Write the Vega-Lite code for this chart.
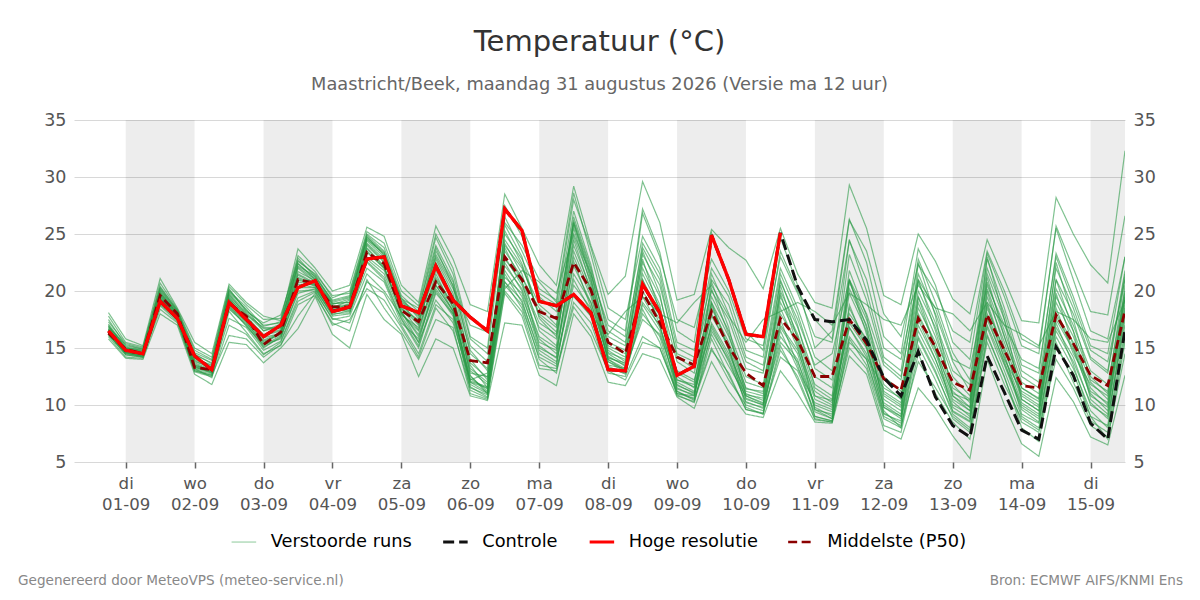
{"$schema":"https://vega.github.io/schema/vega-lite/v6.json","width":1051,"height":342,"autosize":{"type":"none"},"padding":{"left":74,"top":120,"right":75,"bottom":138},"background":"white",
"title":{"text":"Temperatuur (°C)","subtitle":"Maastricht/Beek, maandag 31 augustus 2026 (Versie ma 12 uur)","font":"DejaVu Sans","fontSize":29,"fontWeight":"normal","color":"#333333","subtitleFont":"DejaVu Sans","subtitleFontSize":17.8,"subtitleColor":"#666666","subtitlePadding":19,"anchor":"middle","offset":17},
"config":{"view":{"stroke":null},"font":"DejaVu Sans"},
"datasets":{"runs":[
{"r":1,"h":-6,"v":18.1},{"r":1,"h":0,"v":15.8},{"r":1,"h":6,"v":15.2},{"r":1,"h":12,"v":21.1},{"r":1,"h":18,"v":18.5},{"r":1,"h":24,"v":15.5},{"r":1,"h":30,"v":14.5},{"r":1,"h":36,"v":20.6},{"r":1,"h":42,"v":19},{"r":1,"h":48,"v":17.8},{"r":1,"h":54,"v":17.4},{"r":1,"h":60,"v":23.7},{"r":1,"h":66,"v":22},{"r":1,"h":72,"v":20},{"r":1,"h":78,"v":20.5},{"r":1,"h":84,"v":25.6},{"r":1,"h":90,"v":24.8},{"r":1,"h":96,"v":20.5},{"r":1,"h":102,"v":19},{"r":1,"h":108,"v":25.7},{"r":1,"h":114,"v":22.8},{"r":1,"h":120,"v":18.8},{"r":1,"h":126,"v":18.2},{"r":1,"h":132,"v":28.5},{"r":1,"h":138,"v":25.5},{"r":1,"h":144,"v":22.3},{"r":1,"h":150,"v":20.5},{"r":1,"h":156,"v":29.2},{"r":1,"h":162,"v":24},{"r":1,"h":168,"v":19.7},{"r":1,"h":174,"v":21.3},{"r":1,"h":180,"v":29.6},{"r":1,"h":186,"v":26},{"r":1,"h":192,"v":19.2},{"r":1,"h":198,"v":19.7},{"r":1,"h":204,"v":25.4},{"r":1,"h":210,"v":23.8},{"r":1,"h":216,"v":22.7},{"r":1,"h":222,"v":20.2},{"r":1,"h":228,"v":25.5},{"r":1,"h":234,"v":21.5},{"r":1,"h":240,"v":19},{"r":1,"h":246,"v":18.5},{"r":1,"h":252,"v":29.3},{"r":1,"h":258,"v":25.5},{"r":1,"h":264,"v":19.6},{"r":1,"h":270,"v":18.8},{"r":1,"h":276,"v":25},{"r":1,"h":282,"v":22.6},{"r":1,"h":288,"v":19.3},{"r":1,"h":294,"v":18},{"r":1,"h":300,"v":24.5},{"r":1,"h":306,"v":21},{"r":1,"h":312,"v":17.4},{"r":1,"h":318,"v":17.2},{"r":1,"h":324,"v":28.2},{"r":1,"h":330,"v":25},{"r":1,"h":336,"v":22.3},{"r":1,"h":342,"v":20.7},{"r":1,"h":348,"v":32.3},
{"r":2,"h":-6,"v":15.8},{"r":2,"h":0,"v":14.1},{"r":2,"h":6,"v":14},{"r":2,"h":12,"v":18},{"r":2,"h":18,"v":17},{"r":2,"h":24,"v":12.7},{"r":2,"h":30,"v":11.8},{"r":2,"h":36,"v":15.5},{"r":2,"h":42,"v":15.3},{"r":2,"h":48,"v":13.7},{"r":2,"h":54,"v":15},{"r":2,"h":60,"v":16.7},{"r":2,"h":66,"v":19.5},{"r":2,"h":72,"v":16.2},{"r":2,"h":78,"v":15},{"r":2,"h":84,"v":19.7},{"r":2,"h":90,"v":17.5},{"r":2,"h":96,"v":16.2},{"r":2,"h":102,"v":12.5},{"r":2,"h":108,"v":15.8},{"r":2,"h":114,"v":15},{"r":2,"h":120,"v":10.8},{"r":2,"h":126,"v":10.4},{"r":2,"h":132,"v":17.2},{"r":2,"h":138,"v":17},{"r":2,"h":144,"v":12.6},{"r":2,"h":150,"v":11.7},{"r":2,"h":156,"v":18},{"r":2,"h":162,"v":16},{"r":2,"h":168,"v":12},{"r":2,"h":174,"v":11.7},{"r":2,"h":180,"v":14.5},{"r":2,"h":186,"v":14},{"r":2,"h":192,"v":10.7},{"r":2,"h":198,"v":9.7},{"r":2,"h":204,"v":13.8},{"r":2,"h":210,"v":11.2},{"r":2,"h":216,"v":9.2},{"r":2,"h":222,"v":8.9},{"r":2,"h":228,"v":13},{"r":2,"h":234,"v":11},{"r":2,"h":240,"v":8.5},{"r":2,"h":246,"v":8.4},{"r":2,"h":252,"v":14.3},{"r":2,"h":258,"v":12.7},{"r":2,"h":264,"v":7.8},{"r":2,"h":270,"v":7},{"r":2,"h":276,"v":11.5},{"r":2,"h":282,"v":9.7},{"r":2,"h":288,"v":7.3},{"r":2,"h":294,"v":5.3},{"r":2,"h":300,"v":14},{"r":2,"h":306,"v":10},{"r":2,"h":312,"v":6.6},{"r":2,"h":318,"v":5.5},{"r":2,"h":324,"v":12.4},{"r":2,"h":330,"v":10.3},{"r":2,"h":336,"v":7.2},{"r":2,"h":342,"v":6.5},{"r":2,"h":348,"v":12.6},
{"r":3,"h":-6,"v":17.5},{"r":3,"h":0,"v":15.2},{"r":3,"h":6,"v":14.9},{"r":3,"h":12,"v":20.4},{"r":3,"h":18,"v":18.3},{"r":3,"h":24,"v":14.8},{"r":3,"h":30,"v":14},{"r":3,"h":36,"v":20.2},{"r":3,"h":42,"v":18.2},{"r":3,"h":48,"v":17.2},{"r":3,"h":54,"v":17.9},{"r":3,"h":60,"v":22.6},{"r":3,"h":66,"v":21.5},{"r":3,"h":72,"v":19.6},{"r":3,"h":78,"v":19.8},{"r":3,"h":84,"v":25},{"r":3,"h":90,"v":23.8},{"r":3,"h":96,"v":19.6},{"r":3,"h":102,"v":18.2},{"r":3,"h":108,"v":24.7},{"r":3,"h":114,"v":21.5},{"r":3,"h":120,"v":15.8},{"r":3,"h":126,"v":14.5},{"r":3,"h":132,"v":26.5},{"r":3,"h":138,"v":23.5},{"r":3,"h":144,"v":20.2},{"r":3,"h":150,"v":19.2},{"r":3,"h":156,"v":28.6},{"r":3,"h":162,"v":23.2},{"r":3,"h":168,"v":17.5},{"r":3,"h":174,"v":16.5},{"r":3,"h":180,"v":27.2},{"r":3,"h":186,"v":23.4},{"r":3,"h":192,"v":16.5},{"r":3,"h":198,"v":15.5},{"r":3,"h":204,"v":25.1},{"r":3,"h":210,"v":21},{"r":3,"h":216,"v":16.5},{"r":3,"h":222,"v":14.8},{"r":3,"h":228,"v":24.7},{"r":3,"h":234,"v":20.5},{"r":3,"h":240,"v":15},{"r":3,"h":246,"v":16.5},{"r":3,"h":252,"v":26.3},{"r":3,"h":258,"v":22.5},{"r":3,"h":264,"v":16},{"r":3,"h":270,"v":14.5},{"r":3,"h":276,"v":23.7},{"r":3,"h":282,"v":20.5},{"r":3,"h":288,"v":15.5},{"r":3,"h":294,"v":14},{"r":3,"h":300,"v":23.3},{"r":3,"h":306,"v":19.5},{"r":3,"h":312,"v":15.2},{"r":3,"h":318,"v":14.5},{"r":3,"h":324,"v":25.7},{"r":3,"h":330,"v":22},{"r":3,"h":336,"v":18.2},{"r":3,"h":342,"v":17.9},{"r":3,"h":348,"v":26.6},
{"r":4,"h":-6,"v":16.2},{"r":4,"h":0,"v":14.4},{"r":4,"h":6,"v":14.2},{"r":4,"h":12,"v":18.4},{"r":4,"h":18,"v":17.2},{"r":4,"h":24,"v":13},{"r":4,"h":30,"v":12.6},{"r":4,"h":36,"v":16.1},{"r":4,"h":42,"v":15.8},{"r":4,"h":48,"v":14.2},{"r":4,"h":54,"v":15.3},{"r":4,"h":60,"v":17.8},{"r":4,"h":66,"v":19.8},{"r":4,"h":72,"v":17},{"r":4,"h":78,"v":17.5},{"r":4,"h":84,"v":20.2},{"r":4,"h":90,"v":19.2},{"r":4,"h":96,"v":16.8},{"r":4,"h":102,"v":14.2},{"r":4,"h":108,"v":18.5},{"r":4,"h":114,"v":16.5},{"r":4,"h":120,"v":11.5},{"r":4,"h":126,"v":10.9},{"r":4,"h":132,"v":20},{"r":4,"h":138,"v":18.2},{"r":4,"h":144,"v":13.5},{"r":4,"h":150,"v":13.2},{"r":4,"h":156,"v":19},{"r":4,"h":162,"v":17.2},{"r":4,"h":168,"v":12.8},{"r":4,"h":174,"v":12.5},{"r":4,"h":180,"v":16},{"r":4,"h":186,"v":15},{"r":4,"h":192,"v":11},{"r":4,"h":198,"v":10.6},{"r":4,"h":204,"v":15},{"r":4,"h":210,"v":12.2},{"r":4,"h":216,"v":10},{"r":4,"h":222,"v":9.5},{"r":4,"h":228,"v":14.2},{"r":4,"h":234,"v":13},{"r":4,"h":240,"v":9.4},{"r":4,"h":246,"v":8.8},{"r":4,"h":252,"v":15},{"r":4,"h":258,"v":13.2},{"r":4,"h":264,"v":8.2},{"r":4,"h":270,"v":7.6},{"r":4,"h":276,"v":14.5},{"r":4,"h":282,"v":11},{"r":4,"h":288,"v":8.5},{"r":4,"h":294,"v":7},{"r":4,"h":300,"v":16},{"r":4,"h":306,"v":12.5},{"r":4,"h":312,"v":8},{"r":4,"h":318,"v":6.8},{"r":4,"h":324,"v":15},{"r":4,"h":330,"v":12.8},{"r":4,"h":336,"v":9},{"r":4,"h":342,"v":7},{"r":4,"h":348,"v":15.5},
{"r":5,"h":-6,"v":16.9},{"r":5,"h":0,"v":15},{"r":5,"h":6,"v":14.7},{"r":5,"h":12,"v":20},{"r":5,"h":18,"v":18.1},{"r":5,"h":24,"v":14.2},{"r":5,"h":30,"v":13.4},{"r":5,"h":36,"v":19.7},{"r":5,"h":42,"v":17.9},{"r":5,"h":48,"v":16.8},{"r":5,"h":54,"v":16.8},{"r":5,"h":60,"v":22.1},{"r":5,"h":66,"v":21},{"r":5,"h":72,"v":18.5},{"r":5,"h":78,"v":19.2},{"r":5,"h":84,"v":24.6},{"r":5,"h":90,"v":23.2},{"r":5,"h":96,"v":19},{"r":5,"h":102,"v":17.8},{"r":5,"h":108,"v":23.5},{"r":5,"h":114,"v":20.8},{"r":5,"h":120,"v":14.5},{"r":5,"h":126,"v":13.2},{"r":5,"h":132,"v":25},{"r":5,"h":138,"v":22.8},{"r":5,"h":144,"v":19.5},{"r":5,"h":150,"v":18.2},{"r":5,"h":156,"v":27},{"r":5,"h":162,"v":22.3},{"r":5,"h":168,"v":16},{"r":5,"h":174,"v":15.2},{"r":5,"h":180,"v":24.2},{"r":5,"h":186,"v":21.5},{"r":5,"h":192,"v":15},{"r":5,"h":198,"v":14.2},{"r":5,"h":204,"v":21},{"r":5,"h":210,"v":18.8},{"r":5,"h":216,"v":14.2},{"r":5,"h":222,"v":13.5},{"r":5,"h":228,"v":22},{"r":5,"h":234,"v":18.5},{"r":5,"h":240,"v":14.2},{"r":5,"h":246,"v":13},{"r":5,"h":252,"v":24.5},{"r":5,"h":258,"v":20},{"r":5,"h":264,"v":14.2},{"r":5,"h":270,"v":13},{"r":5,"h":276,"v":22.8},{"r":5,"h":282,"v":19},{"r":5,"h":288,"v":14.6},{"r":5,"h":294,"v":12.2},{"r":5,"h":300,"v":22.8},{"r":5,"h":306,"v":18.5},{"r":5,"h":312,"v":13.5},{"r":5,"h":318,"v":12.8},{"r":5,"h":324,"v":23.3},{"r":5,"h":330,"v":19.5},{"r":5,"h":336,"v":15.2},{"r":5,"h":342,"v":14.5},{"r":5,"h":348,"v":23},
{"r":6,"h":-6,"v":16.1},{"r":6,"h":0,"v":14.6},{"r":6,"h":6,"v":14.3},{"r":6,"h":12,"v":18.9},{"r":6,"h":18,"v":17.5},{"r":6,"h":24,"v":13.3},{"r":6,"h":30,"v":12.9},{"r":6,"h":36,"v":18.5},{"r":6,"h":42,"v":17},{"r":6,"h":48,"v":15},{"r":6,"h":54,"v":16},{"r":6,"h":60,"v":19.8},{"r":6,"h":66,"v":20.2},{"r":6,"h":72,"v":17.8},{"r":6,"h":78,"v":18},{"r":6,"h":84,"v":22.5},{"r":6,"h":90,"v":21},{"r":6,"h":96,"v":17.5},{"r":6,"h":102,"v":15},{"r":6,"h":108,"v":19.8},{"r":6,"h":114,"v":18},{"r":6,"h":120,"v":12},{"r":6,"h":126,"v":11.5},{"r":6,"h":132,"v":21.2},{"r":6,"h":138,"v":19.8},{"r":6,"h":144,"v":15},{"r":6,"h":150,"v":14.2},{"r":6,"h":156,"v":20.5},{"r":6,"h":162,"v":18.5},{"r":6,"h":168,"v":13.5},{"r":6,"h":174,"v":13.2},{"r":6,"h":180,"v":17.5},{"r":6,"h":186,"v":16.2},{"r":6,"h":192,"v":11.8},{"r":6,"h":198,"v":11},{"r":6,"h":204,"v":16.2},{"r":6,"h":210,"v":13.4},{"r":6,"h":216,"v":10.8},{"r":6,"h":222,"v":10.2},{"r":6,"h":228,"v":15.5},{"r":6,"h":234,"v":13.8},{"r":6,"h":240,"v":10},{"r":6,"h":246,"v":9.4},{"r":6,"h":252,"v":16},{"r":6,"h":258,"v":14},{"r":6,"h":264,"v":9.2},{"r":6,"h":270,"v":8.6},{"r":6,"h":276,"v":15.8},{"r":6,"h":282,"v":12.8},{"r":6,"h":288,"v":9.5},{"r":6,"h":294,"v":8.6},{"r":6,"h":300,"v":17},{"r":6,"h":306,"v":13.5},{"r":6,"h":312,"v":9.6},{"r":6,"h":318,"v":8.5},{"r":6,"h":324,"v":16.5},{"r":6,"h":330,"v":13.8},{"r":6,"h":336,"v":10.2},{"r":6,"h":342,"v":8.8},{"r":6,"h":348,"v":17.5},
{"r":7,"h":-6,"v":16.7},{"r":7,"h":0,"v":14.9},{"r":7,"h":6,"v":14.6},{"r":7,"h":12,"v":19.8},{"r":7,"h":18,"v":18},{"r":7,"h":24,"v":13.9},{"r":7,"h":30,"v":13.2},{"r":7,"h":36,"v":19.4},{"r":7,"h":42,"v":17.8},{"r":7,"h":48,"v":16.2},{"r":7,"h":54,"v":16.6},{"r":7,"h":60,"v":21.7},{"r":7,"h":66,"v":20.9},{"r":7,"h":72,"v":18.9},{"r":7,"h":78,"v":19},{"r":7,"h":84,"v":24.2},{"r":7,"h":90,"v":22.8},{"r":7,"h":96,"v":18.6},{"r":7,"h":102,"v":17},{"r":7,"h":108,"v":22.5},{"r":7,"h":114,"v":19.5},{"r":7,"h":120,"v":14},{"r":7,"h":126,"v":12.2},{"r":7,"h":132,"v":24},{"r":7,"h":138,"v":22},{"r":7,"h":144,"v":18.8},{"r":7,"h":150,"v":17.5},{"r":7,"h":156,"v":26},{"r":7,"h":162,"v":21.5},{"r":7,"h":168,"v":15.5},{"r":7,"h":174,"v":14.8},{"r":7,"h":180,"v":23.2},{"r":7,"h":186,"v":20.5},{"r":7,"h":192,"v":14.5},{"r":7,"h":198,"v":13.8},{"r":7,"h":204,"v":20},{"r":7,"h":210,"v":17.5},{"r":7,"h":216,"v":13.2},{"r":7,"h":222,"v":12.8},{"r":7,"h":228,"v":20.8},{"r":7,"h":234,"v":17.5},{"r":7,"h":240,"v":13.5},{"r":7,"h":246,"v":14.5},{"r":7,"h":252,"v":21},{"r":7,"h":258,"v":18},{"r":7,"h":264,"v":13.5},{"r":7,"h":270,"v":12.2},{"r":7,"h":276,"v":21.5},{"r":7,"h":282,"v":18},{"r":7,"h":288,"v":13.8},{"r":7,"h":294,"v":11.2},{"r":7,"h":300,"v":21.5},{"r":7,"h":306,"v":17.5},{"r":7,"h":312,"v":12.5},{"r":7,"h":318,"v":11.5},{"r":7,"h":324,"v":21},{"r":7,"h":330,"v":18},{"r":7,"h":336,"v":14},{"r":7,"h":342,"v":12.8},{"r":7,"h":348,"v":21.5},
{"r":8,"h":-6,"v":16.4},{"r":8,"h":0,"v":14.7},{"r":8,"h":6,"v":14.4},{"r":8,"h":12,"v":19.4},{"r":8,"h":18,"v":17.7},{"r":8,"h":24,"v":13.6},{"r":8,"h":30,"v":13},{"r":8,"h":36,"v":19},{"r":8,"h":42,"v":17.4},{"r":8,"h":48,"v":15.6},{"r":8,"h":54,"v":16.2},{"r":8,"h":60,"v":20.8},{"r":8,"h":66,"v":20.5},{"r":8,"h":72,"v":18.2},{"r":8,"h":78,"v":18.5},{"r":8,"h":84,"v":23.8},{"r":8,"h":90,"v":22.2},{"r":8,"h":96,"v":18},{"r":8,"h":102,"v":16.5},{"r":8,"h":108,"v":21},{"r":8,"h":114,"v":18.6},{"r":8,"h":120,"v":13},{"r":8,"h":126,"v":11.8},{"r":8,"h":132,"v":22.8},{"r":8,"h":138,"v":20.8},{"r":8,"h":144,"v":17.2},{"r":8,"h":150,"v":16.2},{"r":8,"h":156,"v":24},{"r":8,"h":162,"v":20.2},{"r":8,"h":168,"v":14.8},{"r":8,"h":174,"v":13.8},{"r":8,"h":180,"v":21.5},{"r":8,"h":186,"v":18.5},{"r":8,"h":192,"v":12.5},{"r":8,"h":198,"v":11.5},{"r":8,"h":204,"v":18.5},{"r":8,"h":210,"v":15.5},{"r":8,"h":216,"v":11.5},{"r":8,"h":222,"v":11},{"r":8,"h":228,"v":19},{"r":8,"h":234,"v":16},{"r":8,"h":240,"v":11.2},{"r":8,"h":246,"v":10.2},{"r":8,"h":252,"v":19.8},{"r":8,"h":258,"v":16.5},{"r":8,"h":264,"v":11},{"r":8,"h":270,"v":10},{"r":8,"h":276,"v":18.5},{"r":8,"h":282,"v":15.5},{"r":8,"h":288,"v":11.2},{"r":8,"h":294,"v":9.8},{"r":8,"h":300,"v":19.5},{"r":8,"h":306,"v":15.5},{"r":8,"h":312,"v":11},{"r":8,"h":318,"v":10},{"r":8,"h":324,"v":19},{"r":8,"h":330,"v":16},{"r":8,"h":336,"v":12},{"r":8,"h":342,"v":10.5},{"r":8,"h":348,"v":19.5},
{"r":9,"h":-6,"v":17.1},{"r":9,"h":0,"v":15.1},{"r":9,"h":6,"v":14.8},{"r":9,"h":12,"v":19.6},{"r":9,"h":18,"v":17.9},{"r":9,"h":24,"v":13.4},{"r":9,"h":30,"v":12.8},{"r":9,"h":36,"v":18.8},{"r":9,"h":42,"v":17.2},{"r":9,"h":48,"v":15.4},{"r":9,"h":54,"v":16.4},{"r":9,"h":60,"v":20.3},{"r":9,"h":66,"v":20.3},{"r":9,"h":72,"v":18.4},{"r":9,"h":78,"v":18.2},{"r":9,"h":84,"v":23},{"r":9,"h":90,"v":21.8},{"r":9,"h":96,"v":18.2},{"r":9,"h":102,"v":16},{"r":9,"h":108,"v":20.2},{"r":9,"h":114,"v":18},{"r":9,"h":120,"v":12.5},{"r":9,"h":126,"v":11.2},{"r":9,"h":132,"v":20.8},{"r":9,"h":138,"v":19.2},{"r":9,"h":144,"v":14.5},{"r":9,"h":150,"v":13.6},{"r":9,"h":156,"v":21.5},{"r":9,"h":162,"v":19},{"r":9,"h":168,"v":14.2},{"r":9,"h":174,"v":13.5},{"r":9,"h":180,"v":19},{"r":9,"h":186,"v":17},{"r":9,"h":192,"v":12},{"r":9,"h":198,"v":11.2},{"r":9,"h":204,"v":17.2},{"r":9,"h":210,"v":14.5},{"r":9,"h":216,"v":11},{"r":9,"h":222,"v":10.4},{"r":9,"h":228,"v":17},{"r":9,"h":234,"v":14.8},{"r":9,"h":240,"v":10.5},{"r":9,"h":246,"v":9.8},{"r":9,"h":252,"v":17.2},{"r":9,"h":258,"v":15},{"r":9,"h":264,"v":10},{"r":9,"h":270,"v":9},{"r":9,"h":276,"v":17},{"r":9,"h":282,"v":14},{"r":9,"h":288,"v":10},{"r":9,"h":294,"v":9.2},{"r":9,"h":300,"v":18},{"r":9,"h":306,"v":14.2},{"r":9,"h":312,"v":10.2},{"r":9,"h":318,"v":9.2},{"r":9,"h":324,"v":17.5},{"r":9,"h":330,"v":14.8},{"r":9,"h":336,"v":11},{"r":9,"h":342,"v":9.5},{"r":9,"h":348,"v":18},
{"r":10,"h":-6,"v":16.6},{"r":10,"h":0,"v":14.8},{"r":10,"h":6,"v":14.5},{"r":10,"h":12,"v":20.1},{"r":10,"h":18,"v":18.2},{"r":10,"h":24,"v":14.4},{"r":10,"h":30,"v":13.7},{"r":10,"h":36,"v":19.9},{"r":10,"h":42,"v":18.4},{"r":10,"h":48,"v":16.5},{"r":10,"h":54,"v":17.1},{"r":10,"h":60,"v":22.9},{"r":10,"h":66,"v":21.2},{"r":10,"h":72,"v":19.2},{"r":10,"h":78,"v":19.6},{"r":10,"h":84,"v":24.9},{"r":10,"h":90,"v":23.5},{"r":10,"h":96,"v":19.3},{"r":10,"h":102,"v":18.5},{"r":10,"h":108,"v":24},{"r":10,"h":114,"v":21},{"r":10,"h":120,"v":15.2},{"r":10,"h":126,"v":13.8},{"r":10,"h":132,"v":23.5},{"r":10,"h":138,"v":21.2},{"r":10,"h":144,"v":18.5},{"r":10,"h":150,"v":17},{"r":10,"h":156,"v":25.8},{"r":10,"h":162,"v":21},{"r":10,"h":168,"v":15.2},{"r":10,"h":174,"v":14.5},{"r":10,"h":180,"v":22.5},{"r":10,"h":186,"v":19.5},{"r":10,"h":192,"v":13.8},{"r":10,"h":198,"v":12.8},{"r":10,"h":204,"v":19.5},{"r":10,"h":210,"v":16.5},{"r":10,"h":216,"v":12.5},{"r":10,"h":222,"v":11.8},{"r":10,"h":228,"v":20},{"r":10,"h":234,"v":16.8},{"r":10,"h":240,"v":12.5},{"r":10,"h":246,"v":11.5},{"r":10,"h":252,"v":20.8},{"r":10,"h":258,"v":17.5},{"r":10,"h":264,"v":12.5},{"r":10,"h":270,"v":11.2},{"r":10,"h":276,"v":20},{"r":10,"h":282,"v":16.8},{"r":10,"h":288,"v":12.5},{"r":10,"h":294,"v":10.8},{"r":10,"h":300,"v":20.8},{"r":10,"h":306,"v":16.5},{"r":10,"h":312,"v":12},{"r":10,"h":318,"v":11},{"r":10,"h":324,"v":20.2},{"r":10,"h":330,"v":17},{"r":10,"h":336,"v":13},{"r":10,"h":342,"v":11.8},{"r":10,"h":348,"v":20},
{"r":11,"h":-6,"v":16.3},{"r":11,"h":0,"v":14.5},{"r":11,"h":6,"v":14.3},{"r":11,"h":12,"v":19.2},{"r":11,"h":18,"v":17.6},{"r":11,"h":24,"v":13.1},{"r":11,"h":30,"v":12.7},{"r":11,"h":36,"v":17.6},{"r":11,"h":42,"v":16.8},{"r":11,"h":48,"v":14.8},{"r":11,"h":54,"v":15.6},{"r":11,"h":60,"v":19.4},{"r":11,"h":66,"v":20},{"r":11,"h":72,"v":17.5},{"r":11,"h":78,"v":17.8},{"r":11,"h":84,"v":21.5},{"r":11,"h":90,"v":20},{"r":11,"h":96,"v":17.8},{"r":11,"h":102,"v":15.5},{"r":11,"h":108,"v":19.2},{"r":11,"h":114,"v":17.2},{"r":11,"h":120,"v":12.2},{"r":11,"h":126,"v":12.8},{"r":11,"h":132,"v":20.2},{"r":11,"h":138,"v":21.8},{"r":11,"h":144,"v":20.8},{"r":11,"h":150,"v":19},{"r":11,"h":156,"v":19.5},{"r":11,"h":162,"v":17.8},{"r":11,"h":168,"v":16.2},{"r":11,"h":174,"v":18.2},{"r":11,"h":180,"v":19.5},{"r":11,"h":186,"v":18},{"r":11,"h":192,"v":17.2},{"r":11,"h":198,"v":19},{"r":11,"h":204,"v":20.5},{"r":11,"h":210,"v":17.8},{"r":11,"h":216,"v":15.5},{"r":11,"h":222,"v":17.5},{"r":11,"h":228,"v":18.2},{"r":11,"h":234,"v":19},{"r":11,"h":240,"v":18.2},{"r":11,"h":246,"v":17},{"r":11,"h":252,"v":19.8},{"r":11,"h":258,"v":18.8},{"r":11,"h":264,"v":17.5},{"r":11,"h":270,"v":17},{"r":11,"h":276,"v":20.5},{"r":11,"h":282,"v":18.5},{"r":11,"h":288,"v":18},{"r":11,"h":294,"v":16.5},{"r":11,"h":300,"v":19},{"r":11,"h":306,"v":17},{"r":11,"h":312,"v":16.2},{"r":11,"h":318,"v":15.2},{"r":11,"h":324,"v":18.2},{"r":11,"h":330,"v":17.5},{"r":11,"h":336,"v":15.8},{"r":11,"h":342,"v":15.5},{"r":11,"h":348,"v":19.2},
{"r":12,"h":-6,"v":16.8},{"r":12,"h":0,"v":15.3},{"r":12,"h":6,"v":14.9},{"r":12,"h":12,"v":19.9},{"r":12,"h":18,"v":18},{"r":12,"h":24,"v":14.6},{"r":12,"h":30,"v":13.9},{"r":12,"h":36,"v":20},{"r":12,"h":42,"v":18.6},{"r":12,"h":48,"v":16.9},{"r":12,"h":54,"v":17.3},{"r":12,"h":60,"v":22.2},{"r":12,"h":66,"v":21.3},{"r":12,"h":72,"v":19},{"r":12,"h":78,"v":19.4},{"r":12,"h":84,"v":24.4},{"r":12,"h":90,"v":23},{"r":12,"h":96,"v":19.2},{"r":12,"h":102,"v":18},{"r":12,"h":108,"v":23},{"r":12,"h":114,"v":20.2},{"r":12,"h":120,"v":17},{"r":12,"h":126,"v":16.4},{"r":12,"h":132,"v":26},{"r":12,"h":138,"v":24},{"r":12,"h":144,"v":21},{"r":12,"h":150,"v":19.8},{"r":12,"h":156,"v":25},{"r":12,"h":162,"v":21.5},{"r":12,"h":168,"v":17},{"r":12,"h":174,"v":16},{"r":12,"h":180,"v":26.8},{"r":12,"h":186,"v":23},{"r":12,"h":192,"v":17.5},{"r":12,"h":198,"v":16.8},{"r":12,"h":204,"v":22.8},{"r":12,"h":210,"v":20},{"r":12,"h":216,"v":15.8},{"r":12,"h":222,"v":15.2},{"r":12,"h":228,"v":23},{"r":12,"h":234,"v":19.8},{"r":12,"h":240,"v":16},{"r":12,"h":246,"v":15.5},{"r":12,"h":252,"v":24.4},{"r":12,"h":258,"v":21},{"r":12,"h":264,"v":15},{"r":12,"h":270,"v":14},{"r":12,"h":276,"v":21},{"r":12,"h":282,"v":18.5},{"r":12,"h":288,"v":14},{"r":12,"h":294,"v":13.2},{"r":12,"h":300,"v":20.5},{"r":12,"h":306,"v":17},{"r":12,"h":312,"v":14},{"r":12,"h":318,"v":13.2},{"r":12,"h":324,"v":23},{"r":12,"h":330,"v":19},{"r":12,"h":336,"v":14.8},{"r":12,"h":342,"v":13.8},{"r":12,"h":348,"v":21},
{"r":13,"h":-6,"v":16},{"r":13,"h":0,"v":14.2},{"r":13,"h":6,"v":14.1},{"r":13,"h":12,"v":19},{"r":13,"h":18,"v":17.4},{"r":13,"h":24,"v":12.9},{"r":13,"h":30,"v":12.5},{"r":13,"h":36,"v":18.2},{"r":13,"h":42,"v":16.4},{"r":13,"h":48,"v":14.5},{"r":13,"h":54,"v":15.2},{"r":13,"h":60,"v":18.8},{"r":13,"h":66,"v":19.6},{"r":13,"h":72,"v":17.2},{"r":13,"h":78,"v":16.5},{"r":13,"h":84,"v":21},{"r":13,"h":90,"v":18.5},{"r":13,"h":96,"v":16.4},{"r":13,"h":102,"v":14},{"r":13,"h":108,"v":17.5},{"r":13,"h":114,"v":16.8},{"r":13,"h":120,"v":11},{"r":13,"h":126,"v":10.5},{"r":13,"h":132,"v":19.8},{"r":13,"h":138,"v":17.8},{"r":13,"h":144,"v":13.2},{"r":13,"h":150,"v":13},{"r":13,"h":156,"v":18.6},{"r":13,"h":162,"v":16.5},{"r":13,"h":168,"v":13},{"r":13,"h":174,"v":12.2},{"r":13,"h":180,"v":15.5},{"r":13,"h":186,"v":15},{"r":13,"h":192,"v":11.2},{"r":13,"h":198,"v":10.4},{"r":13,"h":204,"v":14.8},{"r":13,"h":210,"v":12.8},{"r":13,"h":216,"v":9.6},{"r":13,"h":222,"v":9.2},{"r":13,"h":228,"v":14.8},{"r":13,"h":234,"v":12.5},{"r":13,"h":240,"v":8.8},{"r":13,"h":246,"v":8.5},{"r":13,"h":252,"v":15.5},{"r":13,"h":258,"v":14},{"r":13,"h":264,"v":9},{"r":13,"h":270,"v":8.2},{"r":13,"h":276,"v":13.8},{"r":13,"h":282,"v":11.5},{"r":13,"h":288,"v":9},{"r":13,"h":294,"v":7.8},{"r":13,"h":300,"v":15.5},{"r":13,"h":306,"v":11.8},{"r":13,"h":312,"v":8.8},{"r":13,"h":318,"v":7.8},{"r":13,"h":324,"v":14},{"r":13,"h":330,"v":11.5},{"r":13,"h":336,"v":8.2},{"r":13,"h":342,"v":7.2},{"r":13,"h":348,"v":14.5},
{"r":14,"h":-6,"v":17.3},{"r":14,"h":0,"v":15.4},{"r":14,"h":6,"v":15},{"r":14,"h":12,"v":20.7},{"r":14,"h":18,"v":18.4},{"r":14,"h":24,"v":15},{"r":14,"h":30,"v":14.2},{"r":14,"h":36,"v":20.4},{"r":14,"h":42,"v":18.8},{"r":14,"h":48,"v":17.5},{"r":14,"h":54,"v":17.6},{"r":14,"h":60,"v":23.1},{"r":14,"h":66,"v":21.7},{"r":14,"h":72,"v":19.4},{"r":14,"h":78,"v":20},{"r":14,"h":84,"v":25.2},{"r":14,"h":90,"v":24.2},{"r":14,"h":96,"v":20},{"r":14,"h":102,"v":18.7},{"r":14,"h":108,"v":25},{"r":14,"h":114,"v":22},{"r":14,"h":120,"v":16},{"r":14,"h":126,"v":15},{"r":14,"h":132,"v":27.5},{"r":14,"h":138,"v":24.8},{"r":14,"h":144,"v":19.8},{"r":14,"h":150,"v":18.8},{"r":14,"h":156,"v":28},{"r":14,"h":162,"v":23.8},{"r":14,"h":168,"v":18.5},{"r":14,"h":174,"v":17.5},{"r":14,"h":180,"v":24.8},{"r":14,"h":186,"v":22},{"r":14,"h":192,"v":15.5},{"r":14,"h":198,"v":14.8},{"r":14,"h":204,"v":22},{"r":14,"h":210,"v":19.5},{"r":14,"h":216,"v":14.8},{"r":14,"h":222,"v":14.2},{"r":14,"h":228,"v":23.5},{"r":14,"h":234,"v":20},{"r":14,"h":240,"v":17.5},{"r":14,"h":246,"v":15.8},{"r":14,"h":252,"v":26.2},{"r":14,"h":258,"v":23.5},{"r":14,"h":264,"v":18},{"r":14,"h":270,"v":16},{"r":14,"h":276,"v":22.3},{"r":14,"h":282,"v":20},{"r":14,"h":288,"v":16.5},{"r":14,"h":294,"v":15.5},{"r":14,"h":300,"v":23.5},{"r":14,"h":306,"v":20},{"r":14,"h":312,"v":15.8},{"r":14,"h":318,"v":15},{"r":14,"h":324,"v":25.5},{"r":14,"h":330,"v":21},{"r":14,"h":336,"v":16.5},{"r":14,"h":342,"v":15.8},{"r":14,"h":348,"v":23},
{"r":15,"h":-6,"v":16.5},{"r":15,"h":0,"v":14.6},{"r":15,"h":6,"v":14.4},{"r":15,"h":12,"v":19.5},{"r":15,"h":18,"v":17.8},{"r":15,"h":24,"v":13.7},{"r":15,"h":30,"v":13.1},{"r":15,"h":36,"v":19.2},{"r":15,"h":42,"v":17.6},{"r":15,"h":48,"v":15.9},{"r":15,"h":54,"v":16.3},{"r":15,"h":60,"v":21.2},{"r":15,"h":66,"v":20.6},{"r":15,"h":72,"v":18.7},{"r":15,"h":78,"v":18.8},{"r":15,"h":84,"v":23.5},{"r":15,"h":90,"v":22},{"r":15,"h":96,"v":18.4},{"r":15,"h":102,"v":17.5},{"r":15,"h":108,"v":21.8},{"r":15,"h":114,"v":19},{"r":15,"h":120,"v":13.5},{"r":15,"h":126,"v":11.5},{"r":15,"h":132,"v":22.2},{"r":15,"h":138,"v":20.2},{"r":15,"h":144,"v":16},{"r":15,"h":150,"v":15},{"r":15,"h":156,"v":23},{"r":15,"h":162,"v":19.5},{"r":15,"h":168,"v":14},{"r":15,"h":174,"v":13},{"r":15,"h":180,"v":20.5},{"r":15,"h":186,"v":17.8},{"r":15,"h":192,"v":11.5},{"r":15,"h":198,"v":10.8},{"r":15,"h":204,"v":18},{"r":15,"h":210,"v":15},{"r":15,"h":216,"v":10.5},{"r":15,"h":222,"v":10},{"r":15,"h":228,"v":18.5},{"r":15,"h":234,"v":15},{"r":15,"h":240,"v":9.8},{"r":15,"h":246,"v":9},{"r":15,"h":252,"v":18.5},{"r":15,"h":258,"v":15.5},{"r":15,"h":264,"v":10.5},{"r":15,"h":270,"v":9.5},{"r":15,"h":276,"v":19},{"r":15,"h":282,"v":15},{"r":15,"h":288,"v":10.8},{"r":15,"h":294,"v":9.5},{"r":15,"h":300,"v":20},{"r":15,"h":306,"v":15},{"r":15,"h":312,"v":10.5},{"r":15,"h":318,"v":9.5},{"r":15,"h":324,"v":18},{"r":15,"h":330,"v":15.5},{"r":15,"h":336,"v":11.5},{"r":15,"h":342,"v":10},{"r":15,"h":348,"v":18.5},
{"r":16,"h":-6,"v":16.6},{"r":16,"h":0,"v":14.9},{"r":16,"h":6,"v":14.6},{"r":16,"h":12,"v":19.3},{"r":16,"h":18,"v":17.9},{"r":16,"h":24,"v":14},{"r":16,"h":30,"v":13.3},{"r":16,"h":36,"v":19.6},{"r":16,"h":42,"v":18},{"r":16,"h":48,"v":16.5},{"r":16,"h":54,"v":16.9},{"r":16,"h":60,"v":21.5},{"r":16,"h":66,"v":20.7},{"r":16,"h":72,"v":18.3},{"r":16,"h":78,"v":18.9},{"r":16,"h":84,"v":24},{"r":16,"h":90,"v":22.5},{"r":16,"h":96,"v":18.8},{"r":16,"h":102,"v":17.3},{"r":16,"h":108,"v":22},{"r":16,"h":114,"v":19.3},{"r":16,"h":120,"v":13.2},{"r":16,"h":126,"v":12},{"r":16,"h":132,"v":23},{"r":16,"h":138,"v":20.5},{"r":16,"h":144,"v":16.8},{"r":16,"h":150,"v":15.8},{"r":16,"h":156,"v":24.8},{"r":16,"h":162,"v":20.8},{"r":16,"h":168,"v":14.5},{"r":16,"h":174,"v":13.6},{"r":16,"h":180,"v":21},{"r":16,"h":186,"v":18},{"r":16,"h":192,"v":12.8},{"r":16,"h":198,"v":12},{"r":16,"h":204,"v":19},{"r":16,"h":210,"v":16},{"r":16,"h":216,"v":12},{"r":16,"h":222,"v":11.5},{"r":16,"h":228,"v":19.5},{"r":16,"h":234,"v":16.2},{"r":16,"h":240,"v":11.8},{"r":16,"h":246,"v":10.8},{"r":16,"h":252,"v":20.2},{"r":16,"h":258,"v":17},{"r":16,"h":264,"v":11.8},{"r":16,"h":270,"v":10.5},{"r":16,"h":276,"v":19.5},{"r":16,"h":282,"v":16},{"r":16,"h":288,"v":11.8},{"r":16,"h":294,"v":10.2},{"r":16,"h":300,"v":20.2},{"r":16,"h":306,"v":16},{"r":16,"h":312,"v":11.5},{"r":16,"h":318,"v":10.5},{"r":16,"h":324,"v":19.5},{"r":16,"h":330,"v":16.5},{"r":16,"h":336,"v":12.5},{"r":16,"h":342,"v":11},{"r":16,"h":348,"v":19.8},
{"r":17,"h":-6,"v":17.8},{"r":17,"h":0,"v":15.5},{"r":17,"h":6,"v":15.1},{"r":17,"h":12,"v":20.3},{"r":17,"h":18,"v":18.3},{"r":17,"h":24,"v":14.5},{"r":17,"h":30,"v":13.6},{"r":17,"h":36,"v":19.3},{"r":17,"h":42,"v":17.5},{"r":17,"h":48,"v":16},{"r":17,"h":54,"v":17},{"r":17,"h":60,"v":22.4},{"r":17,"h":66,"v":21},{"r":17,"h":72,"v":18.8},{"r":17,"h":78,"v":19.3},{"r":17,"h":84,"v":24.7},{"r":17,"h":90,"v":23.4},{"r":17,"h":96,"v":19.4},{"r":17,"h":102,"v":17.6},{"r":17,"h":108,"v":23.2},{"r":17,"h":114,"v":20.5},{"r":17,"h":120,"v":14.8},{"r":17,"h":126,"v":13},{"r":17,"h":132,"v":24.5},{"r":17,"h":138,"v":22.2},{"r":17,"h":144,"v":18},{"r":17,"h":150,"v":16.8},{"r":17,"h":156,"v":26.5},{"r":17,"h":162,"v":22},{"r":17,"h":168,"v":16.5},{"r":17,"h":174,"v":15.5},{"r":17,"h":180,"v":23.8},{"r":17,"h":186,"v":21},{"r":17,"h":192,"v":14.2},{"r":17,"h":198,"v":13.2},{"r":17,"h":204,"v":21.5},{"r":17,"h":210,"v":18},{"r":17,"h":216,"v":13.8},{"r":17,"h":222,"v":13},{"r":17,"h":228,"v":21.5},{"r":17,"h":234,"v":18},{"r":17,"h":240,"v":13.2},{"r":17,"h":246,"v":12.2},{"r":17,"h":252,"v":23.2},{"r":17,"h":258,"v":19.2},{"r":17,"h":264,"v":13.8},{"r":17,"h":270,"v":12.5},{"r":17,"h":276,"v":20.8},{"r":17,"h":282,"v":17.2},{"r":17,"h":288,"v":13},{"r":17,"h":294,"v":11.8},{"r":17,"h":300,"v":22},{"r":17,"h":306,"v":18},{"r":17,"h":312,"v":13},{"r":17,"h":318,"v":12},{"r":17,"h":324,"v":22},{"r":17,"h":330,"v":18.5},{"r":17,"h":336,"v":14.2},{"r":17,"h":342,"v":13},{"r":17,"h":348,"v":21.8},
{"r":18,"h":-6,"v":16.2},{"r":18,"h":0,"v":14.4},{"r":18,"h":6,"v":14.2},{"r":18,"h":12,"v":18.7},{"r":18,"h":18,"v":17.3},{"r":18,"h":24,"v":13.2},{"r":18,"h":30,"v":12.4},{"r":18,"h":36,"v":17},{"r":18,"h":42,"v":16.2},{"r":18,"h":48,"v":14.4},{"r":18,"h":54,"v":15.5},{"r":18,"h":60,"v":19.1},{"r":18,"h":66,"v":19.9},{"r":18,"h":72,"v":17.6},{"r":18,"h":78,"v":17.2},{"r":18,"h":84,"v":20.8},{"r":18,"h":90,"v":19.8},{"r":18,"h":96,"v":17},{"r":18,"h":102,"v":14.5},{"r":18,"h":108,"v":18.8},{"r":18,"h":114,"v":17.5},{"r":18,"h":120,"v":11.8},{"r":18,"h":126,"v":11},{"r":18,"h":132,"v":20.5},{"r":18,"h":138,"v":18.8},{"r":18,"h":144,"v":14},{"r":18,"h":150,"v":12.8},{"r":18,"h":156,"v":19.8},{"r":18,"h":162,"v":17.8},{"r":18,"h":168,"v":13.2},{"r":18,"h":174,"v":12.8},{"r":18,"h":180,"v":18},{"r":18,"h":186,"v":16},{"r":18,"h":192,"v":10.9},{"r":18,"h":198,"v":10.2},{"r":18,"h":204,"v":16.5},{"r":18,"h":210,"v":14},{"r":18,"h":216,"v":10.2},{"r":18,"h":222,"v":9.8},{"r":18,"h":228,"v":16},{"r":18,"h":234,"v":14},{"r":18,"h":240,"v":9},{"r":18,"h":246,"v":8.6},{"r":18,"h":252,"v":16.8},{"r":18,"h":258,"v":14.5},{"r":18,"h":264,"v":9.5},{"r":18,"h":270,"v":8},{"r":18,"h":276,"v":16},{"r":18,"h":282,"v":13},{"r":18,"h":288,"v":9.2},{"r":18,"h":294,"v":8},{"r":18,"h":300,"v":16.8},{"r":18,"h":306,"v":13},{"r":18,"h":312,"v":9},{"r":18,"h":318,"v":8},{"r":18,"h":324,"v":16},{"r":18,"h":330,"v":13.2},{"r":18,"h":336,"v":9.5},{"r":18,"h":342,"v":8},{"r":18,"h":348,"v":16.5},
{"r":19,"h":-6,"v":16.9},{"r":19,"h":0,"v":15},{"r":19,"h":6,"v":14.7},{"r":19,"h":12,"v":19.7},{"r":19,"h":18,"v":18},{"r":19,"h":24,"v":13.8},{"r":19,"h":30,"v":13.3},{"r":19,"h":36,"v":18.6},{"r":19,"h":42,"v":17.3},{"r":19,"h":48,"v":15.2},{"r":19,"h":54,"v":16.1},{"r":19,"h":60,"v":21},{"r":19,"h":66,"v":20.4},{"r":19,"h":72,"v":18.1},{"r":19,"h":78,"v":18.4},{"r":19,"h":84,"v":22.8},{"r":19,"h":90,"v":21.5},{"r":19,"h":96,"v":17.9},{"r":19,"h":102,"v":16.8},{"r":19,"h":108,"v":21.2},{"r":19,"h":114,"v":18.8},{"r":19,"h":120,"v":12.8},{"r":19,"h":126,"v":12.5},{"r":19,"h":132,"v":21.8},{"r":19,"h":138,"v":19.5},{"r":19,"h":144,"v":15.5},{"r":19,"h":150,"v":14.8},{"r":19,"h":156,"v":22.2},{"r":19,"h":162,"v":19},{"r":19,"h":168,"v":14},{"r":19,"h":174,"v":13.2},{"r":19,"h":180,"v":20},{"r":19,"h":186,"v":17.5},{"r":19,"h":192,"v":13},{"r":19,"h":198,"v":12.2},{"r":19,"h":204,"v":17.8},{"r":19,"h":210,"v":15.2},{"r":19,"h":216,"v":11.2},{"r":19,"h":222,"v":10.8},{"r":19,"h":228,"v":18},{"r":19,"h":234,"v":15.5},{"r":19,"h":240,"v":10.8},{"r":19,"h":246,"v":10},{"r":19,"h":252,"v":18},{"r":19,"h":258,"v":15.8},{"r":19,"h":264,"v":10.8},{"r":19,"h":270,"v":9.8},{"r":19,"h":276,"v":17.8},{"r":19,"h":282,"v":14.5},{"r":19,"h":288,"v":10.5},{"r":19,"h":294,"v":9.5},{"r":19,"h":300,"v":18.5},{"r":19,"h":306,"v":14.8},{"r":19,"h":312,"v":10.8},{"r":19,"h":318,"v":9.8},{"r":19,"h":324,"v":17.8},{"r":19,"h":330,"v":15},{"r":19,"h":336,"v":10.8},{"r":19,"h":342,"v":9.8},{"r":19,"h":348,"v":18.8},
{"r":20,"h":-6,"v":16.4},{"r":20,"h":0,"v":14.7},{"r":20,"h":6,"v":14.4},{"r":20,"h":12,"v":19},{"r":20,"h":18,"v":17.7},{"r":20,"h":24,"v":13.5},{"r":20,"h":30,"v":13},{"r":20,"h":36,"v":18.4},{"r":20,"h":42,"v":17.1},{"r":20,"h":48,"v":15.1},{"r":20,"h":54,"v":15.9},{"r":20,"h":60,"v":20},{"r":20,"h":66,"v":20.1},{"r":20,"h":72,"v":18},{"r":20,"h":78,"v":18.1},{"r":20,"h":84,"v":22},{"r":20,"h":90,"v":20.8},{"r":20,"h":96,"v":17.2},{"r":20,"h":102,"v":15.8},{"r":20,"h":108,"v":20.5},{"r":20,"h":114,"v":18.2},{"r":20,"h":120,"v":12.3},{"r":20,"h":126,"v":11.4},{"r":20,"h":132,"v":21.5},{"r":20,"h":138,"v":19},{"r":20,"h":144,"v":14.8},{"r":20,"h":150,"v":13.8},{"r":20,"h":156,"v":21},{"r":20,"h":162,"v":18.2},{"r":20,"h":168,"v":13.8},{"r":20,"h":174,"v":12.9},{"r":20,"h":180,"v":18.8},{"r":20,"h":186,"v":16.5},{"r":20,"h":192,"v":11.4},{"r":20,"h":198,"v":10.9},{"r":20,"h":204,"v":17},{"r":20,"h":210,"v":14.2},{"r":20,"h":216,"v":10.6},{"r":20,"h":222,"v":10},{"r":20,"h":228,"v":16.8},{"r":20,"h":234,"v":14.5},{"r":20,"h":240,"v":9.6},{"r":20,"h":246,"v":9.2},{"r":20,"h":252,"v":17.5},{"r":20,"h":258,"v":15.2},{"r":20,"h":264,"v":9.8},{"r":20,"h":270,"v":8.8},{"r":20,"h":276,"v":16.5},{"r":20,"h":282,"v":13.5},{"r":20,"h":288,"v":9.8},{"r":20,"h":294,"v":8.8},{"r":20,"h":300,"v":17.5},{"r":20,"h":306,"v":13.8},{"r":20,"h":312,"v":9.8},{"r":20,"h":318,"v":8.8},{"r":20,"h":324,"v":16.8},{"r":20,"h":330,"v":14.2},{"r":20,"h":336,"v":10},{"r":20,"h":342,"v":9},{"r":20,"h":348,"v":17},
{"r":21,"h":-6,"v":16.6},{"r":21,"h":0,"v":14.6},{"r":21,"h":6,"v":14.5},{"r":21,"h":12,"v":19.2},{"r":21,"h":18,"v":17.5},{"r":21,"h":24,"v":13.5},{"r":21,"h":30,"v":13},{"r":21,"h":36,"v":19.5},{"r":21,"h":42,"v":17.7},{"r":21,"h":48,"v":16.1},{"r":21,"h":54,"v":16.5},{"r":21,"h":60,"v":22},{"r":21,"h":66,"v":20.8},{"r":21,"h":72,"v":18.6},{"r":21,"h":78,"v":18.7},{"r":21,"h":84,"v":24.1},{"r":21,"h":90,"v":22.6},{"r":21,"h":96,"v":18.5},{"r":21,"h":102,"v":16.6},{"r":21,"h":108,"v":21.5},{"r":21,"h":114,"v":18.5},{"r":21,"h":120,"v":12},{"r":21,"h":126,"v":11.1},{"r":21,"h":132,"v":24.2},{"r":21,"h":138,"v":21.5},{"r":21,"h":144,"v":16.5},{"r":21,"h":150,"v":15.2},{"r":21,"h":156,"v":26},{"r":21,"h":162,"v":21.2},{"r":21,"h":168,"v":14.3},{"r":21,"h":174,"v":13.4},{"r":21,"h":180,"v":22},{"r":21,"h":186,"v":18.8},{"r":21,"h":192,"v":11.2},{"r":21,"h":198,"v":10.5},{"r":21,"h":204,"v":20.8},{"r":21,"h":210,"v":16.8},{"r":21,"h":216,"v":10.8},{"r":21,"h":222,"v":10.1},{"r":21,"h":228,"v":20.5},{"r":21,"h":234,"v":15.8},{"r":21,"h":240,"v":9.6},{"r":21,"h":246,"v":8.8},{"r":21,"h":252,"v":21},{"r":21,"h":258,"v":16.8},{"r":21,"h":264,"v":9.8},{"r":21,"h":270,"v":9},{"r":21,"h":276,"v":22.5},{"r":21,"h":282,"v":17.8},{"r":21,"h":288,"v":10.8},{"r":21,"h":294,"v":9.8},{"r":21,"h":300,"v":23},{"r":21,"h":306,"v":17.5},{"r":21,"h":312,"v":10.5},{"r":21,"h":318,"v":9.5},{"r":21,"h":324,"v":21},{"r":21,"h":330,"v":16.5},{"r":21,"h":336,"v":10.5},{"r":21,"h":342,"v":9.2},{"r":21,"h":348,"v":20.5},
{"r":22,"h":-6,"v":16.7},{"r":22,"h":0,"v":14.9},{"r":22,"h":6,"v":14.4},{"r":22,"h":12,"v":19.8},{"r":22,"h":18,"v":18.1},{"r":22,"h":24,"v":13.2},{"r":22,"h":30,"v":12.8},{"r":22,"h":36,"v":19.8},{"r":22,"h":42,"v":18.1},{"r":22,"h":48,"v":16.7},{"r":22,"h":54,"v":16.7},{"r":22,"h":60,"v":22.4},{"r":22,"h":66,"v":21.1},{"r":22,"h":72,"v":18.9},{"r":22,"h":78,"v":19},{"r":22,"h":84,"v":24.8},{"r":22,"h":90,"v":23.1},{"r":22,"h":96,"v":18.9},{"r":22,"h":102,"v":17.1},{"r":22,"h":108,"v":22.8},{"r":22,"h":114,"v":19.8},{"r":22,"h":120,"v":12.6},{"r":22,"h":126,"v":11},{"r":22,"h":132,"v":25.8},{"r":22,"h":138,"v":23},{"r":22,"h":144,"v":17.6},{"r":22,"h":150,"v":16},{"r":22,"h":156,"v":25.5},{"r":22,"h":162,"v":20.5},{"r":22,"h":168,"v":13.8},{"r":22,"h":174,"v":13.1},{"r":22,"h":180,"v":21},{"r":22,"h":186,"v":17},{"r":22,"h":192,"v":11},{"r":22,"h":198,"v":10.8},{"r":22,"h":204,"v":19},{"r":22,"h":210,"v":15},{"r":22,"h":216,"v":9.8},{"r":22,"h":222,"v":9.2},{"r":22,"h":228,"v":17.5},{"r":22,"h":234,"v":13.5},{"r":22,"h":240,"v":9},{"r":22,"h":246,"v":8.6},{"r":22,"h":252,"v":18.8},{"r":22,"h":258,"v":15},{"r":22,"h":264,"v":9.3},{"r":22,"h":270,"v":8.4},{"r":22,"h":276,"v":19.5},{"r":22,"h":282,"v":15},{"r":22,"h":288,"v":9.4},{"r":22,"h":294,"v":8.5},{"r":22,"h":300,"v":19},{"r":22,"h":306,"v":14.5},{"r":22,"h":312,"v":9.2},{"r":22,"h":318,"v":8.4},{"r":22,"h":324,"v":17.2},{"r":22,"h":330,"v":13.5},{"r":22,"h":336,"v":9},{"r":22,"h":342,"v":8.2},{"r":22,"h":348,"v":18.2},
{"r":23,"h":-6,"v":16.3},{"r":23,"h":0,"v":14.5},{"r":23,"h":6,"v":14.3},{"r":23,"h":12,"v":19.4},{"r":23,"h":18,"v":17.8},{"r":23,"h":24,"v":13.4},{"r":23,"h":30,"v":13},{"r":23,"h":36,"v":19.1},{"r":23,"h":42,"v":17.7},{"r":23,"h":48,"v":15.7},{"r":23,"h":54,"v":16.3},{"r":23,"h":60,"v":21.4},{"r":23,"h":66,"v":20.6},{"r":23,"h":72,"v":18.3},{"r":23,"h":78,"v":18.6},{"r":23,"h":84,"v":23.7},{"r":23,"h":90,"v":22.1},{"r":23,"h":96,"v":18.1},{"r":23,"h":102,"v":16.2},{"r":23,"h":108,"v":20.5},{"r":23,"h":114,"v":18.3},{"r":23,"h":120,"v":11.6},{"r":23,"h":126,"v":10.7},{"r":23,"h":132,"v":22.5},{"r":23,"h":138,"v":20},{"r":23,"h":144,"v":15.8},{"r":23,"h":150,"v":14.5},{"r":23,"h":156,"v":23.5},{"r":23,"h":162,"v":19.8},{"r":23,"h":168,"v":14.1},{"r":23,"h":174,"v":13.7},{"r":23,"h":180,"v":19.5},{"r":23,"h":186,"v":16.8},{"r":23,"h":192,"v":12.2},{"r":23,"h":198,"v":11.6},{"r":23,"h":204,"v":16.8},{"r":23,"h":210,"v":13.8},{"r":23,"h":216,"v":10.3},{"r":23,"h":222,"v":9.7},{"r":23,"h":228,"v":16.5},{"r":23,"h":234,"v":13.2},{"r":23,"h":240,"v":10.2},{"r":23,"h":246,"v":9.6},{"r":23,"h":252,"v":21},{"r":23,"h":258,"v":16.2},{"r":23,"h":264,"v":10.2},{"r":23,"h":270,"v":9.2},{"r":23,"h":276,"v":17.5},{"r":23,"h":282,"v":14},{"r":23,"h":288,"v":10.3},{"r":23,"h":294,"v":9},{"r":23,"h":300,"v":17.8},{"r":23,"h":306,"v":13.6},{"r":23,"h":312,"v":10},{"r":23,"h":318,"v":9},{"r":23,"h":324,"v":19.8},{"r":23,"h":330,"v":15.2},{"r":23,"h":336,"v":11.2},{"r":23,"h":342,"v":10.2},{"r":23,"h":348,"v":19.5},
{"r":24,"h":-6,"v":16.5},{"r":24,"h":0,"v":14.8},{"r":24,"h":6,"v":14.6},{"r":24,"h":12,"v":19.6},{"r":24,"h":18,"v":17.9},{"r":24,"h":24,"v":13.3},{"r":24,"h":30,"v":12.9},{"r":24,"h":36,"v":19.3},{"r":24,"h":42,"v":17.4},{"r":24,"h":48,"v":15.5},{"r":24,"h":54,"v":16.2},{"r":24,"h":60,"v":21.1},{"r":24,"h":66,"v":20.5},{"r":24,"h":72,"v":18.5},{"r":24,"h":78,"v":18.5},{"r":24,"h":84,"v":23.4},{"r":24,"h":90,"v":22},{"r":24,"h":96,"v":18.2},{"r":24,"h":102,"v":15.5},{"r":24,"h":108,"v":21},{"r":24,"h":114,"v":18.2},{"r":24,"h":120,"v":12.1},{"r":24,"h":126,"v":11.6},{"r":24,"h":132,"v":23.8},{"r":24,"h":138,"v":20.8},{"r":24,"h":144,"v":15.2},{"r":24,"h":150,"v":14.1},{"r":24,"h":156,"v":24.5},{"r":24,"h":162,"v":20},{"r":24,"h":168,"v":14.6},{"r":24,"h":174,"v":14},{"r":24,"h":180,"v":22.8},{"r":24,"h":186,"v":18.2},{"r":24,"h":192,"v":11.7},{"r":24,"h":198,"v":11.1},{"r":24,"h":204,"v":18.8},{"r":24,"h":210,"v":14.8},{"r":24,"h":216,"v":10.9},{"r":24,"h":222,"v":10.6},{"r":24,"h":228,"v":19.8},{"r":24,"h":234,"v":15.2},{"r":24,"h":240,"v":10.8},{"r":24,"h":246,"v":10.4},{"r":24,"h":252,"v":16.8},{"r":24,"h":258,"v":14.2},{"r":24,"h":264,"v":11.5},{"r":24,"h":270,"v":10.6},{"r":24,"h":276,"v":18},{"r":24,"h":282,"v":14.8},{"r":24,"h":288,"v":11},{"r":24,"h":294,"v":10.4},{"r":24,"h":300,"v":18.8},{"r":24,"h":306,"v":14},{"r":24,"h":312,"v":11.2},{"r":24,"h":318,"v":10.3},{"r":24,"h":324,"v":18.5},{"r":24,"h":330,"v":14.5},{"r":24,"h":336,"v":11.8},{"r":24,"h":342,"v":10.8},{"r":24,"h":348,"v":19.2},
{"r":25,"h":-6,"v":16.4},{"r":25,"h":0,"v":14.6},{"r":25,"h":6,"v":14.2},{"r":25,"h":12,"v":18.8},{"r":25,"h":18,"v":17.5},{"r":25,"h":24,"v":13},{"r":25,"h":30,"v":12.6},{"r":25,"h":36,"v":18.7},{"r":25,"h":42,"v":16.9},{"r":25,"h":48,"v":15.3},{"r":25,"h":54,"v":15.8},{"r":25,"h":60,"v":20.6},{"r":25,"h":66,"v":20.3},{"r":25,"h":72,"v":17.9},{"r":25,"h":78,"v":18.3},{"r":25,"h":84,"v":22.6},{"r":25,"h":90,"v":21.2},{"r":25,"h":96,"v":17.6},{"r":25,"h":102,"v":15.2},{"r":25,"h":108,"v":20},{"r":25,"h":114,"v":17.8},{"r":25,"h":120,"v":11.3},{"r":25,"h":126,"v":10.6},{"r":25,"h":132,"v":20.8},{"r":25,"h":138,"v":18.5},{"r":25,"h":144,"v":14.2},{"r":25,"h":150,"v":13.4},{"r":25,"h":156,"v":22.6},{"r":25,"h":162,"v":18.6},{"r":25,"h":168,"v":13.4},{"r":25,"h":174,"v":12.7},{"r":25,"h":180,"v":18.4},{"r":25,"h":186,"v":15.5},{"r":25,"h":192,"v":10.8},{"r":25,"h":198,"v":10.3},{"r":25,"h":204,"v":15.8},{"r":25,"h":210,"v":12.6},{"r":25,"h":216,"v":9.6},{"r":25,"h":222,"v":9.3},{"r":25,"h":228,"v":15.2},{"r":25,"h":234,"v":12.2},{"r":25,"h":240,"v":8.7},{"r":25,"h":246,"v":8.5},{"r":25,"h":252,"v":15.8},{"r":25,"h":258,"v":13.5},{"r":25,"h":264,"v":8.8},{"r":25,"h":270,"v":8},{"r":25,"h":276,"v":15.2},{"r":25,"h":282,"v":12.2},{"r":25,"h":288,"v":8.8},{"r":25,"h":294,"v":7.6},{"r":25,"h":300,"v":16.2},{"r":25,"h":306,"v":12.4},{"r":25,"h":312,"v":8.5},{"r":25,"h":318,"v":7.6},{"r":25,"h":324,"v":15.5},{"r":25,"h":330,"v":12},{"r":25,"h":336,"v":8.6},{"r":25,"h":342,"v":7.6},{"r":25,"h":348,"v":16},
{"r":26,"h":-6,"v":17},{"r":26,"h":0,"v":15},{"r":26,"h":6,"v":14.8},{"r":26,"h":12,"v":20.2},{"r":26,"h":18,"v":18.2},{"r":26,"h":24,"v":14.1},{"r":26,"h":30,"v":13.5},{"r":26,"h":36,"v":20.1},{"r":26,"h":42,"v":18.3},{"r":26,"h":48,"v":17},{"r":26,"h":54,"v":17.2},{"r":26,"h":60,"v":22.7},{"r":26,"h":66,"v":21.4},{"r":26,"h":72,"v":19.1},{"r":26,"h":78,"v":19.5},{"r":26,"h":84,"v":24.5},{"r":26,"h":90,"v":23.3},{"r":26,"h":96,"v":19.1},{"r":26,"h":102,"v":17.9},{"r":26,"h":108,"v":23.8},{"r":26,"h":114,"v":20.4},{"r":26,"h":120,"v":13.7},{"r":26,"h":126,"v":12.4},{"r":26,"h":132,"v":25.3},{"r":26,"h":138,"v":22.4},{"r":26,"h":144,"v":17.8},{"r":26,"h":150,"v":16.4},{"r":26,"h":156,"v":26.2},{"r":26,"h":162,"v":21.8},{"r":26,"h":168,"v":15},{"r":26,"h":174,"v":14.2},{"r":26,"h":180,"v":23.5},{"r":26,"h":186,"v":19.8},{"r":26,"h":192,"v":12.2},{"r":26,"h":198,"v":11.8},{"r":26,"h":204,"v":20.2},{"r":26,"h":210,"v":16.2},{"r":26,"h":216,"v":11.4},{"r":26,"h":222,"v":11.2},{"r":26,"h":228,"v":21},{"r":26,"h":234,"v":17},{"r":26,"h":240,"v":11.5},{"r":26,"h":246,"v":10.5},{"r":26,"h":252,"v":21.8},{"r":26,"h":258,"v":17.8},{"r":26,"h":264,"v":11.2},{"r":26,"h":270,"v":10.2},{"r":26,"h":276,"v":21},{"r":26,"h":282,"v":16.5},{"r":26,"h":288,"v":11.5},{"r":26,"h":294,"v":10.5},{"r":26,"h":300,"v":21.2},{"r":26,"h":306,"v":16},{"r":26,"h":312,"v":11.5},{"r":26,"h":318,"v":10.6},{"r":26,"h":324,"v":22.5},{"r":26,"h":330,"v":17.5},{"r":26,"h":336,"v":12.2},{"r":26,"h":342,"v":11.2},{"r":26,"h":348,"v":21.2}
],
"hires":[{"h":-6,"v":16.5},{"h":0,"v":14.8},{"h":6,"v":14.5},{"h":12,"v":19.1},{"h":18,"v":17.6},{"h":24,"v":14.3},{"h":30,"v":13.1},{"h":36,"v":19},{"h":42,"v":17.5},{"h":48,"v":16},{"h":54,"v":17},{"h":60,"v":20.3},{"h":66,"v":20.9},{"h":72,"v":18.2},{"h":78,"v":18.6},{"h":84,"v":22.8},{"h":90,"v":23},{"h":96,"v":18.7},{"h":102,"v":18.1},{"h":108,"v":22.2},{"h":114,"v":19.2},{"h":120,"v":17.7},{"h":126,"v":16.5},{"h":132,"v":27.2},{"h":138,"v":25.3},{"h":144,"v":19.1},{"h":150,"v":18.7},{"h":156,"v":19.7},{"h":162,"v":18.1},{"h":168,"v":13.1},{"h":174,"v":13},{"h":180,"v":20.6},{"h":186,"v":18.1},{"h":192,"v":12.6},{"h":198,"v":13.4},{"h":204,"v":24.9},{"h":210,"v":21},{"h":216,"v":16.2},{"h":222,"v":16},{"h":228,"v":25.1}],
"control":[{"h":-6,"v":16.5},{"h":0,"v":14.8},{"h":6,"v":14.5},{"h":12,"v":19.1},{"h":18,"v":17.6},{"h":24,"v":14.3},{"h":30,"v":13.1},{"h":36,"v":19},{"h":42,"v":17.5},{"h":48,"v":16},{"h":54,"v":17},{"h":60,"v":20.3},{"h":66,"v":20.9},{"h":72,"v":18.2},{"h":78,"v":18.6},{"h":84,"v":22.8},{"h":90,"v":23},{"h":96,"v":18.7},{"h":102,"v":18.1},{"h":108,"v":22.2},{"h":114,"v":19.2},{"h":120,"v":17.7},{"h":126,"v":16.5},{"h":132,"v":27.2},{"h":138,"v":25.3},{"h":144,"v":19.1},{"h":150,"v":18.7},{"h":156,"v":19.7},{"h":162,"v":18.1},{"h":168,"v":13.1},{"h":174,"v":13},{"h":180,"v":20.6},{"h":186,"v":18.1},{"h":192,"v":12.6},{"h":198,"v":13.4},{"h":204,"v":24.9},{"h":210,"v":21},{"h":216,"v":16.2},{"h":222,"v":16},{"h":228,"v":25.1},{"h":234,"v":20.4},{"h":240,"v":17.5},{"h":246,"v":17.3},{"h":252,"v":17.5},{"h":258,"v":15.7},{"h":264,"v":12.4},{"h":270,"v":10.8},{"h":276,"v":14.7},{"h":282,"v":10.7},{"h":288,"v":8.2},{"h":294,"v":7.2},{"h":300,"v":14.3},{"h":306,"v":11.1},{"h":312,"v":7.8},{"h":318,"v":7},{"h":324,"v":15.1},{"h":330,"v":12.6},{"h":336,"v":8.4},{"h":342,"v":7},{"h":348,"v":16.6}],
"p50":[{"h":-6,"v":16.3},{"h":0,"v":14.9},{"h":6,"v":14.5},{"h":12,"v":19.6},{"h":18,"v":18},{"h":24,"v":13.3},{"h":30,"v":13.1},{"h":36,"v":18.9},{"h":42,"v":17.8},{"h":48,"v":15.3},{"h":54,"v":16.4},{"h":60,"v":21},{"h":66,"v":20.7},{"h":72,"v":18.6},{"h":78,"v":18.6},{"h":84,"v":23.4},{"h":90,"v":22.4},{"h":96,"v":18.3},{"h":102,"v":17.3},{"h":108,"v":20.8},{"h":114,"v":18.9},{"h":120,"v":13.9},{"h":126,"v":13.7},{"h":132,"v":23},{"h":138,"v":21},{"h":144,"v":18.2},{"h":150,"v":17.6},{"h":156,"v":22.5},{"h":162,"v":20.1},{"h":168,"v":15.5},{"h":174,"v":14.5},{"h":180,"v":19.9},{"h":186,"v":17.2},{"h":192,"v":14.2},{"h":198,"v":13.5},{"h":204,"v":18.2},{"h":210,"v":15.1},{"h":216,"v":12.8},{"h":222,"v":11.7},{"h":228,"v":17.6},{"h":234,"v":15.7},{"h":240,"v":12.5},{"h":246,"v":12.5},{"h":252,"v":17.5},{"h":258,"v":15.4},{"h":264,"v":12.3},{"h":270,"v":11.3},{"h":276,"v":17.6},{"h":282,"v":15.1},{"h":288,"v":12},{"h":294,"v":11.3},{"h":300,"v":17.9},{"h":306,"v":14.8},{"h":312,"v":11.7},{"h":318,"v":11.5},{"h":324,"v":17.9},{"h":330,"v":15.4},{"h":336,"v":12.6},{"h":342,"v":11.7},{"h":348,"v":18.3}]
},
"encoding":{"x":{"field":"h","type":"quantitative","title":null,"scale":{"domain":[-18,348],"nice":false,"zero":false},"axis":{"values":[0,24,48,72,96,120,144,168,192,216,240,264,288,312,336],"grid":false,"domain":false,"tickColor":"#666666","tickWidth":1.5,"tickSize":6,"labelColor":"#555555","labelFont":"DejaVu Sans","labelFontSize":16.6,"labelPadding":7,"labelLineHeight":21,"labelOverlap":false,"labelFlush":false,"labelExpr":"[['di','wo','do','vr','za','zo','ma'][(datum.value/24)%7], (datum.value/24<9?'0':'')+(datum.value/24+1)+'-09']"}}},
"resolve":{"scale":{"y":"independent"},"axis":{"y":"independent"}},
"layer":[
{"data":{"values":[{"a":0,"b":24},{"a":48,"b":72},{"a":96,"b":120},{"a":144,"b":168},{"a":192,"b":216},{"a":240,"b":264},{"a":288,"b":312},{"a":336,"b":348}]},"mark":{"type":"rect","color":"#000000","opacity":0.07},"encoding":{"x":{"field":"a","type":"quantitative"},"x2":{"field":"b"}}},
{"data":{"name":"runs"},"mark":{"type":"line","strokeWidth":1.2,"opacity":0.6,"clip":true},"encoding":{"detail":{"field":"r"},"y":{"field":"v","type":"quantitative","title":null,"scale":{"domain":[5,35],"nice":false,"zero":false},"axis":{"orient":"left","values":[5,10,15,20,25,30,35],"grid":true,"gridColor":"#d8d8d8","gridWidth":1,"domain":false,"ticks":false,"labelColor":"#555555","labelFont":"DejaVu Sans","labelFontSize":17.5,"labelPadding":8}},
"color":{"datum":"Verstoorde runs","scale":{"domain":["Verstoorde runs","Controle","Hoge resolutie","Middelste (P50)"],"range":["#2a9a46","#111111","#ff0000","#8b0000"]},"legend":{"title":null,"orient":"none","direction":"horizontal","legendX":161,"legendY":413,"labelFont":"DejaVu Sans","labelFontSize":17.8,"labelColor":"#000000","symbolType":"stroke","symbolSize":600,"columnPadding":24.5,"labelOffset":18,"encoding":{"symbols":{"strokeWidth":{"value":{"signal":"datum.value==='Verstoorde runs'?1:datum.value==='Middelste (P50)'?2.5:3"}},"opacity":{"value":{"signal":"datum.value==='Verstoorde runs'?0.6:1"}}}}}},
"strokeDash":{"datum":"Verstoorde runs","scale":{"domain":["Verstoorde runs","Controle","Hoge resolutie","Middelste (P50)"],"range":[[1,0],[11,5],[1,0],[9,4.5]]},"legend":{"title":null}}}},
{"data":{"name":"p50"},"mark":{"type":"line","strokeWidth":2.8,"clip":true},"encoding":{"y":{"field":"v","type":"quantitative","scale":{"domain":[5,35],"nice":false,"zero":false},"axis":null},"color":{"datum":"Middelste (P50)"},"strokeDash":{"datum":"Middelste (P50)"}}},
{"data":{"name":"control"},"mark":{"type":"line","strokeWidth":3,"clip":true},"encoding":{"y":{"field":"v","type":"quantitative","scale":{"domain":[5,35],"nice":false,"zero":false},"axis":null},"color":{"datum":"Controle"},"strokeDash":{"datum":"Controle"}}},
{"data":{"name":"hires"},"mark":{"type":"line","strokeWidth":3.4,"clip":true},"encoding":{"y":{"field":"v","type":"quantitative","scale":{"domain":[5,35],"nice":false,"zero":false},"axis":{"orient":"right","title":null,"values":[5,10,15,20,25,30,35],"grid":false,"domain":false,"ticks":false,"labelColor":"#555555","labelFont":"DejaVu Sans","labelFontSize":17.5,"labelPadding":8}},"color":{"datum":"Hoge resolutie"},"strokeDash":{"datum":"Hoge resolutie"}}},
{"data":{"values":[{"h":-37.5,"v":-5.45,"t":"Gegenereerd door MeteoVPS (meteo-service.nl)"}]},"mark":{"type":"text","align":"left","baseline":"middle","font":"DejaVu Sans","fontSize":13.6,"color":"#888888"},"encoding":{"text":{"field":"t"},"y":{"field":"v","type":"quantitative","scale":{"domain":[5,35],"nice":false,"zero":false},"axis":null}}},
{"data":{"values":[{"h":368.2,"v":-5.45,"t":"Bron: ECMWF AIFS/KNMI Ens"}]},"mark":{"type":"text","align":"right","baseline":"middle","font":"DejaVu Sans","fontSize":13.6,"color":"#888888"},"encoding":{"text":{"field":"t"},"y":{"field":"v","type":"quantitative","scale":{"domain":[5,35],"nice":false,"zero":false},"axis":null}}}
]}
